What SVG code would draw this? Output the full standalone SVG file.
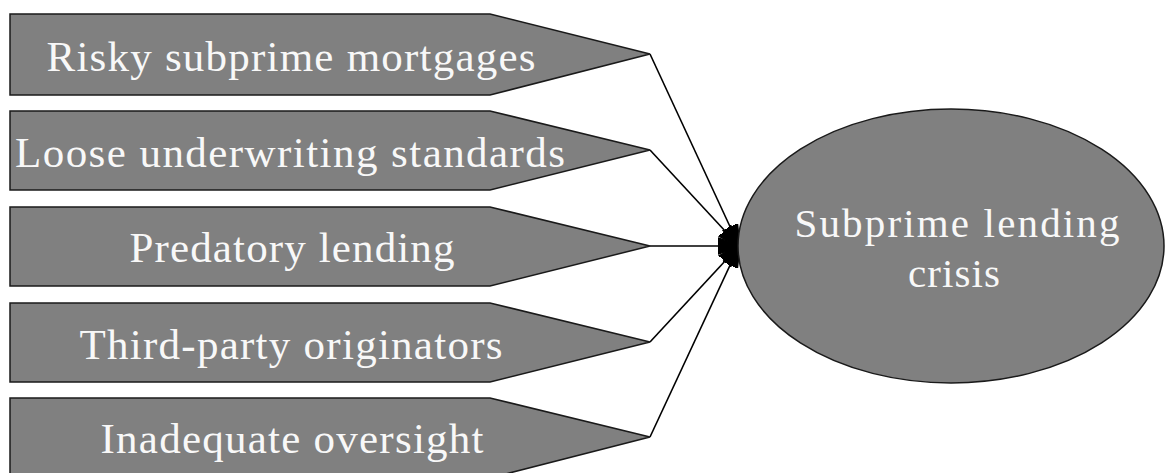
<svg xmlns="http://www.w3.org/2000/svg" width="1167" height="473" viewBox="0 0 1167 473">
  <style>
    .shape { fill: #808080; stroke: #1a1a1a; stroke-width: 1.5; }
    .label { fill: #f8f8f8; font-family: "Liberation Serif", "Times New Roman", serif; font-size: 43px; text-anchor: middle; }
    .title { font-size: 41px; }
    .link { stroke: #000000; stroke-width: 1.6; fill: none; marker-end: url(#head); }
  </style>
  <defs>
    <marker id="head" viewBox="0 0 22 18" refX="21" refY="9" markerWidth="22" markerHeight="18" markerUnits="userSpaceOnUse" orient="auto">
      <path d="M0,1 L21,8 L21,10 L0,17 Z" fill="#000000" stroke="#000000" stroke-width="1.5" stroke-linejoin="round"/>
    </marker>
  </defs>

  <!-- connectors from each cause to the central node -->
  <g id="connectors">
    <line class="link" x1="650" y1="54" x2="739" y2="246"/>
    <line class="link" x1="650" y1="150" x2="739" y2="246"/>
    <line class="link" x1="650" y1="246" x2="739" y2="246"/>
    <line class="link" x1="650" y1="342" x2="739" y2="246"/>
    <line class="link" x1="650" y1="437" x2="739" y2="246"/>
  </g>

  <g id="cause-risky">
    <polygon class="shape" points="10,14 490,14 650,54 490,95 10,95"/>
    <text class="label" x="291" y="71" textLength="489" lengthAdjust="spacing">Risky subprime mortgages</text>
  </g>
  <g id="cause-underwriting">
    <polygon class="shape" points="10,111 490,111 650,150 490,190 10,190"/>
    <text class="label" x="290" y="167" textLength="550" lengthAdjust="spacing">Loose underwriting standards</text>
  </g>
  <g id="cause-predatory">
    <polygon class="shape" points="10,207 490,207 650,246 490,286 10,286"/>
    <text class="label" x="292" y="262" textLength="325" lengthAdjust="spacing">Predatory lending</text>
  </g>
  <g id="cause-third-party">
    <polygon class="shape" points="10,303 490,303 650,342 490,382 10,382"/>
    <text class="label" x="291" y="359" textLength="423" lengthAdjust="spacing">Third-party originators</text>
  </g>
  <g id="cause-oversight">
    <polygon class="shape" points="10,398 490,398 650,437 490,478 10,478"/>
    <text class="label" x="292" y="453" textLength="383" lengthAdjust="spacing">Inadequate oversight</text>
  </g>

  <g id="crisis">
    <ellipse class="shape" cx="951" cy="246" rx="213" ry="137"/>
    <text class="label title" x="957" y="237" textLength="325" lengthAdjust="spacing">Subprime lending</text>
    <text class="label title" x="954" y="287" textLength="92" lengthAdjust="spacing">crisis</text>
  </g>
</svg>
